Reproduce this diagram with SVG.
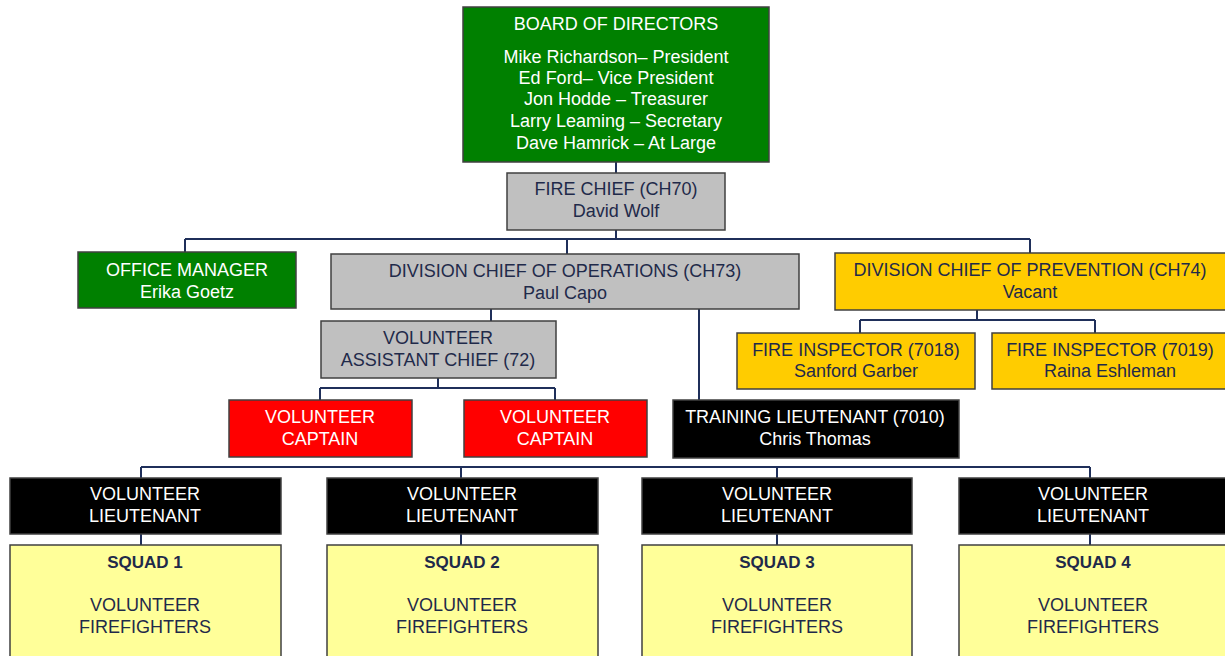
<svg xmlns="http://www.w3.org/2000/svg" width="1225" height="656" viewBox="0 0 1225 656">
<style>
  .box{stroke:#404040;stroke-width:1.5}
  .green{fill:#008000}
  .gray{fill:#C0C0C0}
  .gold{fill:#FFCC00}
  .red{fill:#FF0000}
  .black{fill:#000000}
  .pale{fill:#FFFF99}
  text{font-family:"Liberation Sans",Arial,sans-serif;font-size:18px;text-anchor:middle}
  .dk{fill:#1F2A4A}
  .wt{fill:#FFFFFF}
  .b{font-weight:bold;font-size:17px}
  .conn{stroke:#1F2F5A;stroke-width:2;fill:none}
</style>
<rect width="1225" height="656" fill="#FFFFFF"/>
<g id="connectors">
  <path class="conn" d="M616 162V173"/>
  <path class="conn" d="M616 230V239M185 239H1030M185 239V252M567 239V254M1030 239V253"/>
  <path class="conn" d="M491 309V321"/>
  <path class="conn" d="M438 378V388M320 388H555M320 388V400M555 388V400"/>
  <path class="conn" d="M699 309V400"/>
  <path class="conn" d="M977 310V320M860 320H1095M860 320V333M1095 320V333"/>
  <path class="conn" d="M141 467H1090M141 467V478M461 467V478M777 467V478M1090 467V478"/>
  <path class="conn" d="M141 534V545M461 534V545M777 534V545M1090 534V545"/>
</g>
<g id="board">
  <rect class="box green" x="463" y="7" width="306" height="155"/>
  <text class="wt" x="616" y="30">BOARD OF DIRECTORS</text>
  <text class="wt" x="616" y="63">Mike Richardson– President</text>
  <text class="wt" x="616" y="84">Ed Ford– Vice President</text>
  <text class="wt" x="616" y="105">Jon Hodde – Treasurer</text>
  <text class="wt" x="616" y="127">Larry Leaming – Secretary</text>
  <text class="wt" x="616" y="149">Dave Hamrick – At Large</text>
</g>
<g id="fire-chief">
  <rect class="box gray" x="507" y="173" width="218" height="57"/>
  <text class="dk" x="616" y="195">FIRE CHIEF (CH70)</text>
  <text class="dk" x="616" y="217">David Wolf</text>
</g>
<g id="office-manager">
  <rect class="box green" x="78" y="252" width="218" height="56"/>
  <text class="wt" x="187" y="276">OFFICE MANAGER</text>
  <text class="wt" x="187" y="298">Erika Goetz</text>
</g>
<g id="div-chief-ops">
  <rect class="box gray" x="331" y="254" width="468" height="55"/>
  <text class="dk" x="565" y="277">DIVISION CHIEF OF OPERATIONS (CH73)</text>
  <text class="dk" x="565" y="299">Paul Capo</text>
</g>
<g id="div-chief-prev">
  <rect class="box gold" x="835" y="253" width="395" height="57"/>
  <text class="dk" x="1030" y="276">DIVISION CHIEF OF PREVENTION (CH74)</text>
  <text class="dk" x="1030" y="298">Vacant</text>
</g>
<g id="asst-chief">
  <rect class="box gray" x="321" y="321" width="235" height="57"/>
  <text class="dk" x="438" y="344">VOLUNTEER</text>
  <text class="dk" x="438" y="366">ASSISTANT CHIEF (72)</text>
</g>
<g id="inspector-7018">
  <rect class="box gold" x="737" y="333" width="238" height="56"/>
  <text class="dk" x="856" y="356">FIRE INSPECTOR (7018)</text>
  <text class="dk" x="856" y="377">Sanford Garber</text>
</g>
<g id="inspector-7019">
  <rect class="box gold" x="992" y="333" width="238" height="56"/>
  <text class="dk" x="1110" y="356">FIRE INSPECTOR (7019)</text>
  <text class="dk" x="1110" y="377">Raina Eshleman</text>
</g>
<g id="captain-1">
  <rect class="box red" x="229" y="400" width="183" height="57"/>
  <text class="wt" x="320" y="423">VOLUNTEER</text>
  <text class="wt" x="320" y="445">CAPTAIN</text>
</g>
<g id="captain-2">
  <rect class="box red" x="464" y="400" width="183" height="57"/>
  <text class="wt" x="555" y="423">VOLUNTEER</text>
  <text class="wt" x="555" y="445">CAPTAIN</text>
</g>
<g id="training-lt">
  <rect class="box black" x="673" y="400" width="286" height="58"/>
  <text class="wt" x="815" y="423">TRAINING LIEUTENANT (7010)</text>
  <text class="wt" x="815" y="445">Chris Thomas</text>
</g>
<g id="lt-1">
  <rect class="box black" x="10" y="478" width="271" height="56"/>
  <text class="wt" x="145" y="500">VOLUNTEER</text>
  <text class="wt" x="145" y="522">LIEUTENANT</text>
</g>
<g id="lt-2">
  <rect class="box black" x="327" y="478" width="271" height="56"/>
  <text class="wt" x="462" y="500">VOLUNTEER</text>
  <text class="wt" x="462" y="522">LIEUTENANT</text>
</g>
<g id="lt-3">
  <rect class="box black" x="642" y="478" width="270" height="56"/>
  <text class="wt" x="777" y="500">VOLUNTEER</text>
  <text class="wt" x="777" y="522">LIEUTENANT</text>
</g>
<g id="lt-4">
  <rect class="box black" x="959" y="478" width="270" height="56"/>
  <text class="wt" x="1093" y="500">VOLUNTEER</text>
  <text class="wt" x="1093" y="522">LIEUTENANT</text>
</g>
<g id="squad-1">
  <rect class="box pale" x="10" y="545" width="271" height="120"/>
  <text class="dk b" x="145" y="568">SQUAD 1</text>
  <text class="dk" x="145" y="611">VOLUNTEER</text>
  <text class="dk" x="145" y="633">FIREFIGHTERS</text>
</g>
<g id="squad-2">
  <rect class="box pale" x="327" y="545" width="271" height="120"/>
  <text class="dk b" x="462" y="568">SQUAD 2</text>
  <text class="dk" x="462" y="611">VOLUNTEER</text>
  <text class="dk" x="462" y="633">FIREFIGHTERS</text>
</g>
<g id="squad-3">
  <rect class="box pale" x="642" y="545" width="270" height="120"/>
  <text class="dk b" x="777" y="568">SQUAD 3</text>
  <text class="dk" x="777" y="611">VOLUNTEER</text>
  <text class="dk" x="777" y="633">FIREFIGHTERS</text>
</g>
<g id="squad-4">
  <rect class="box pale" x="959" y="545" width="270" height="120"/>
  <text class="dk b" x="1093" y="568">SQUAD 4</text>
  <text class="dk" x="1093" y="611">VOLUNTEER</text>
  <text class="dk" x="1093" y="633">FIREFIGHTERS</text>
</g>
</svg>
